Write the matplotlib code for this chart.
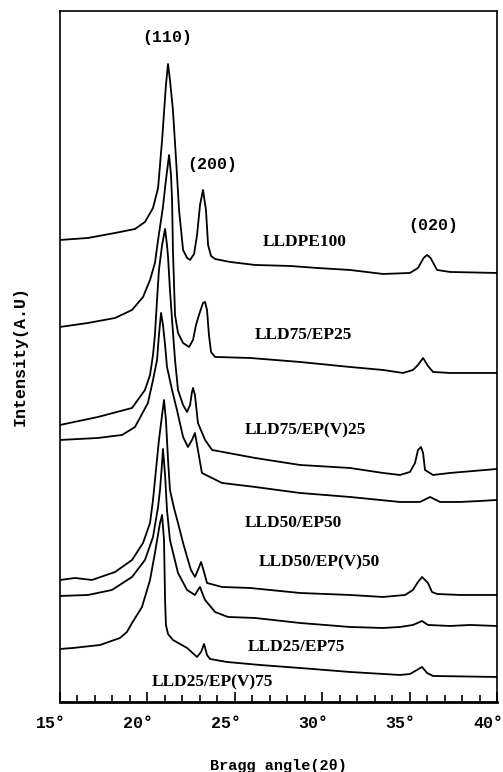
import matplotlib.pyplot as plt
import matplotlib.transforms as mtransforms
from matplotlib.ticker import MultipleLocator

# traced XRD patterns, 2theta in degrees, intensity in arbitrary units (stacked)
angle_lldpe100 = [15.00, 16.60, 18.15, 19.29, 19.86, 20.32, 20.61, 20.84, 21.06, 21.18,
                  21.29, 21.46, 21.64, 21.81, 22.04, 22.27, 22.44, 22.67, 22.84, 23.01,
                  23.18, 23.35, 23.47, 23.64, 23.87, 24.73, 26.16, 28.16, 29.70, 31.59,
                  33.48, 35.02, 35.48, 35.80, 36.00, 36.20, 36.57, 37.31, 40.00]
int_lldpe100 = [462, 464, 469, 473, 480, 494, 514, 562, 617, 638,
                622, 592, 542, 492, 452, 444, 442, 448, 467, 497,
                512, 492, 457, 446, 443, 440, 437, 436, 434, 432,
                428, 429, 434, 444, 447, 444, 432, 430, 429]

angle_75_25 = [15.00, 16.60, 18.15, 19.12, 19.75, 20.15, 20.43, 20.61, 20.89, 21.06,
               21.24, 21.35, 21.41, 21.46, 21.58, 21.75, 22.04, 22.38, 22.61, 22.78,
               22.95, 23.18, 23.30, 23.41, 23.52, 23.64, 23.87, 25.87, 28.73, 31.59,
               33.48, 34.62, 35.19, 35.48, 35.77, 36.05, 36.34, 37.31, 40.00]
int_75_25 = [375, 379, 384, 392, 405, 422, 439, 462, 495, 522,
             547, 527, 502, 452, 387, 369, 359, 355, 362, 377,
             387, 399, 400, 392, 367, 350, 345, 344, 340, 335,
             332, 329, 332, 337, 344, 336, 330, 329, 329]

angle_75_v25 = [15.00, 17.17, 19.12, 19.86, 20.15, 20.32, 20.43, 20.55, 20.66, 20.84,
                21.01, 21.12, 21.18, 21.29, 21.41, 21.58, 21.75, 22.04, 22.27, 22.44,
                22.55, 22.61, 22.72, 22.89, 23.30, 23.70, 26.16, 28.73, 31.59, 33.48,
                34.45, 35.02, 35.31, 35.48, 35.65, 35.77, 35.88, 36.34, 37.31, 40.00]
int_75_v25 = [277, 285, 294, 312, 327, 347, 367, 402, 432, 457,
              473, 457, 445, 412, 382, 342, 312, 297, 290, 297,
              310, 314, 307, 279, 262, 252, 244, 237, 234, 229,
              227, 230, 239, 252, 255, 249, 232, 227, 229, 233]

angle_50_50 = [15.00, 17.17, 18.55, 19.29, 20.03, 20.32, 20.55, 20.66, 20.78, 20.89,
               21.01, 21.12, 21.41, 21.69, 22.04, 22.32, 22.55, 22.72, 22.89, 23.12,
               24.27, 26.16, 28.73, 31.59, 34.45, 35.59, 36.17, 36.74, 37.88, 39.03,
               40.00]
int_50_50 = [262, 264, 267, 275, 299, 322, 342, 367, 389, 377,
             357, 335, 312, 292, 265, 255, 262, 269, 252, 229,
             219, 215, 209, 205, 200, 200, 205, 200, 200, 201,
             202]

angle_50_v50 = [15.00, 15.86, 16.83, 18.15, 19.12, 19.75, 20.15, 20.32, 20.49, 20.66,
                20.84, 20.95, 21.06, 21.18, 21.29, 21.52, 21.75, 22.04, 22.27, 22.49,
                22.72, 22.89, 23.07, 23.24, 23.41, 24.27, 25.87, 28.73, 31.59, 33.48,
                34.74, 35.19, 35.48, 35.71, 36.05, 36.28, 36.57, 37.88, 40.00]
int_50_v50 = [122, 124, 122, 130, 142, 159, 179, 202, 232, 262,
              287, 302, 282, 242, 212, 194, 179, 159, 145, 132,
              125, 132, 140, 130, 119, 115, 114, 109, 107, 105,
              107, 112, 120, 125, 119, 110, 108, 107, 107]

angle_25_75 = [15.00, 16.60, 17.97, 19.12, 19.86, 20.32, 20.61, 20.72, 20.81, 20.89,
               21.01, 21.12, 21.29, 21.75, 22.27, 22.72, 22.89, 23.01, 23.18, 23.30,
               23.87, 24.61, 26.16, 28.73, 31.59, 33.48, 34.45, 35.19, 35.71, 36.05,
               37.31, 38.46, 40.00]
int_25_75 = [106, 107, 112, 125, 142, 165, 195, 212, 232, 253,
             227, 192, 162, 129, 112, 107, 112, 115, 107, 102,
             90, 85, 84, 79, 75, 74, 75, 77, 81, 77,
             76, 77, 76]

angle_25_v75 = [15.00, 15.74, 17.29, 18.43, 18.83, 19.12, 19.69, 20.15, 20.43, 20.72,
                20.84, 20.95, 21.01, 21.06, 21.18, 21.46, 22.27, 22.84, 23.07, 23.24,
                23.41, 23.58, 24.55, 26.44, 28.73, 31.59, 34.45, 35.02, 35.42, 35.71,
                36.00, 36.34, 40.00]
int_25_v75 = [53, 54, 57, 64, 70, 79, 95, 122, 149, 179,
              187, 162, 102, 77, 68, 62, 54, 45, 50, 58,
              47, 43, 40, 37, 34, 30, 27, 28, 32, 35,
              29, 26, 25]

sample_names = ["LLDPE100", "LLD75/EP25", "LLD75/EP(V)25", "LLD50/EP50",
                "LLD50/EP(V)50", "LLD25/EP75", "LLD25/EP(V)75"]
name_x = [29.02, 28.90, 29.02, 28.33, 29.82, 28.50, 23.70]
name_y = [460, 367, 272, 179, 140, 55, 20]

planes = ["(110)", "(200)", "(020)"]
plane_x = [21.12, 23.70, 36.34]
plane_y = [664, 537, 476]

tick_pos = [15, 20, 25, 30, 35, 40]
tick_labels = ["15°", "20°", "25°", "30°", "35°", "40°"]

curves = [
    (angle_lldpe100, int_lldpe100),
    (angle_75_25, int_75_25),
    (angle_75_v25, int_75_v25),
    (angle_50_50, int_50_50),
    (angle_50_v50, int_50_v50),
    (angle_25_75, int_25_75),
    (angle_25_v75, int_25_v75),
]

fig = plt.figure(figsize=(5.03, 7.72), dpi=100)
ax = fig.add_axes([0.1193, 0.0907, 0.8688, 0.8951])

for x, y in curves:
    ax.plot(x, y, color="black", lw=1.3)

for name, x, y in zip(sample_names, name_x, name_y):
    ax.text(x, y, name, ha="center", va="center", fontsize=12.5,
            fontweight="bold", family="Liberation Serif")

for name, x, y in zip(planes, plane_x, plane_y):
    ax.text(x, y, name, ha="center", va="center", fontsize=12,
            fontweight="bold", family="Liberation Mono")

ax.set_xlim(15, 40)
ax.set_ylim(0, 691)
ax.set_xticks(tick_pos)
ax.set_xticklabels(tick_labels, fontsize=12, fontweight="bold", family="Liberation Mono")
ax.xaxis.set_minor_locator(MultipleLocator(1))
ax.tick_params(axis="x", which="both", direction="in", pad=10, width=1.2)
ax.tick_params(axis="x", which="major", length=7)
ax.tick_params(axis="x", which="minor", length=5)
ax.set_yticks([])

# the scanned frame leans a little, so the bottom labels sit slightly left
shift = mtransforms.ScaledTranslation(-0.09, 0, fig.dpi_scale_trans)
for lab in ax.get_xticklabels():
    lab.set_transform(lab.get_transform() + shift)

for side in ["left", "right", "top"]:
    ax.spines[side].set_linewidth(1.2)
ax.spines["bottom"].set_linewidth(2.0)

ax.set_xlabel("Bragg angle(2θ)", fontsize=11, fontweight="bold",
              family="Liberation Mono", labelpad=20)
ax.set_ylabel("Intensity(A.U)", fontsize=12, fontweight="bold",
              family="Liberation Mono", labelpad=23)

fig.savefig("out.png", dpi=100)
